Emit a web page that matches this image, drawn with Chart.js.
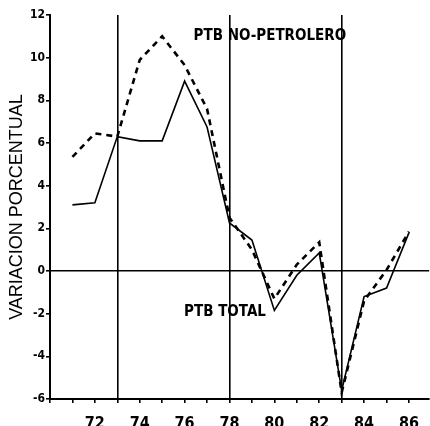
<!DOCTYPE html>
<html>
<head>
<meta charset="utf-8">
<script src="https://cdn.jsdelivr.net/npm/chart.js@4"></script>
<style>
  html, body { margin: 0; padding: 0; background: #fff; }
  #wrap { width: 430px; height: 426px; }
</style>
</head>
<body>
<div id="wrap"><canvas id="growthChart" width="430" height="426"></canvas></div>
<script>

// years 1971..1986
const years = [71, 72, 73, 74, 75, 76, 77, 78, 79, 80, 81, 82, 83, 84, 85, 86];

const ptbTotal =
[3.1, 3.2, 6.3, 6.1, 6.1, 8.9, 6.75, 2.25, 1.45, -1.85, -0.2, 0.85, -5.6, -1.2, -0.8, 1.8];

const ptbNoPetrolero =
[5.35, 6.45, 6.3, 9.9, 11.0, 9.65, 7.6, 2.5, 1.0, -1.3, 0.3, 1.35, -5.7, -1.4, 0.05, 1.85];

const xTicks = [70, 71, 72, 73, 74, 75, 76, 77, 78, 79, 80, 81, 82, 83, 84, 85, 86];
const xTickLabels = [72, 74, 76, 78, 80, 82, 84, 86];
const markYears = [73, 78, 83];

const yTickLabels = [-6, -4, -2, 0, 2, 4, 6, 8, 10, 12];

const FONT_NARROW = '"Liberation Sans Narrow", "DejaVu Sans Condensed", sans-serif';

function toPoints(values){
    return values.map((v, i) => ({ x: years[i], y: v }));
}

// curve names written inside the plot
const curveLabels = [
    { text: "PTB NO-PETROLERO", x: 79.8, y: 11.0 },
    { text: "PTB TOTAL", x: 77.8, y: -1.95 }
];

const curveLabelPlugin = {
    id: "curveLabels",
    afterDatasetsDraw(chart){
        const ctx = chart.ctx;
        const xs = chart.scales.x;
        const ys = chart.scales.y;
        ctx.save();
        ctx.font = "bold 15px " + FONT_NARROW;
        ctx.fillStyle = "#000";
        ctx.textAlign = "center";
        ctx.textBaseline = "middle";
        curveLabels.forEach(l => {
            ctx.fillText(l.text, xs.getPixelForValue(l.x), ys.getPixelForValue(l.y));
        });
        ctx.restore();
    }
};

new Chart(

    document.getElementById("growthChart"),

    {
        type: "line",

        data: {
            datasets: [
                {
                    label: "PTB NO-PETROLERO",
                    data: toPoints(ptbNoPetrolero),
                    borderColor: "#000",
                    borderWidth: 2.6,
                    borderDash: [6, 5],
                    pointRadius: 0,
                    tension: 0
                },
                {
                    label: "PTB TOTAL",
                    data: toPoints(ptbTotal),
                    borderColor: "#000",
                    borderWidth: 1.6,
                    pointRadius: 0,
                    tension: 0
                }
            ]
        },

        options: {
            responsive: false,
            animation: false,
            layout: { padding: { top: 15, right: 0, left: 0, bottom: 0 } },
            plugins: {
                legend: { display: false },
                tooltip: { enabled: false }
            },
            scales: {
                x: {
                    type: "linear",
                    min: 70,
                    max: 86.9,
                    afterBuildTicks: scale => {
                        scale.ticks = xTicks.map(v => ({ value: v }));
                    },
                    afterFit: scale => { scale.height = 27; },
                    grid: {
                        color: c => markYears.includes(c.tick && c.tick.value) ? "#000" : "rgba(0,0,0,0)",
                        lineWidth: 1.6,
                        tickColor: "#000",
                        tickLength: 4,
                        drawTicks: true
                    },
                    border: { display: true, color: "#000", width: 2 },
                    ticks: {
                        autoSkip: false,
                        maxRotation: 0,
                        padding: 11,
                        color: "#000",
                        font: { family: FONT_NARROW, size: 16, weight: "bold" },
                        callback: v => xTickLabels.includes(v) ? String(v) : ""
                    }
                },
                y: {
                    min: -6,
                    max: 12,
                    afterBuildTicks: scale => {
                        scale.ticks = yTickLabels.map(v => ({ value: v }));
                    },
                    afterFit: scale => { scale.width = 50; },
                    grid: {
                        color: c => (c.tick && c.tick.value === 0) ? "#000" : "rgba(0,0,0,0)",
                        lineWidth: 1.6,
                        tickColor: "#000",
                        tickLength: 4
                    },
                    border: { display: true, color: "#000", width: 2 },
                    ticks: {
                        padding: 1,
                        color: "#000",
                        font: { family: FONT_NARROW, size: 12, weight: "bold" }
                    },
                    title: {
                        display: true,
                        text: "VARIACION PORCENTUAL",
                        color: "#000",
                        padding: { top: 6, bottom: 0 },
                        font: { family: '"Liberation Sans", Arial, sans-serif', size: 18 }
                    }
                }
            }
        },

        plugins: [curveLabelPlugin]
    }

);

</script>
</body>
</html>
